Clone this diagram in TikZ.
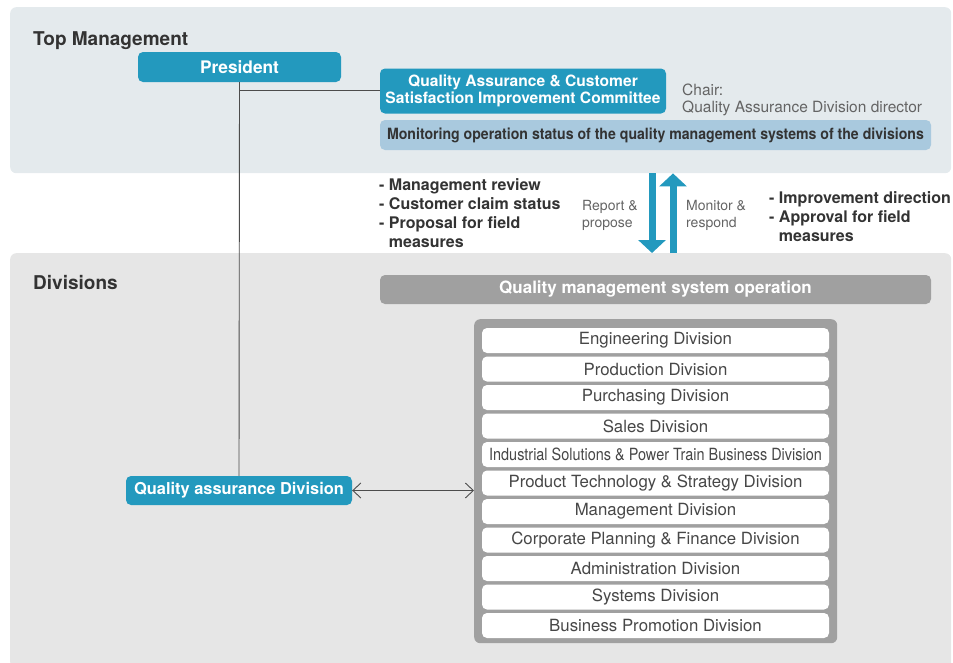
\documentclass[tikz,border=0pt]{standalone}
\usepackage{fontspec}
\setmainfont{TeX Gyre Heros}
\usepackage{xcolor}
\usetikzlibrary{arrows.meta, positioning}
\definecolor{qaBlue}{RGB}{35,153,190}
\definecolor{topBack}{RGB}{228,234,237}
\definecolor{divBack}{RGB}{230,230,230}
\definecolor{monBlue}{RGB}{169,201,222}
\definecolor{boxGray}{RGB}{160,160,160}
\definecolor{textDark}{RGB}{51,51,51}
\definecolor{textGray}{RGB}{100,100,100}
\newcommand{\fsz}[1]{\fontsize{#1}{1.15em}\selectfont}
\tikzset{
  panel/.style={rounded corners=6pt, inner sep=0pt, anchor=north west},
  bluebox/.style={fill=qaBlue, rounded corners=5pt, text=white, inner sep=0pt, font=\bfseries\fsz{16.4}},
  graybar/.style={fill=boxGray, rounded corners=5pt, text=white, inner sep=0pt, font=\bfseries\fsz{17}},
  divbox/.style={fill=white, rounded corners=5pt, text=textDark!90, inner sep=0pt,
    minimum width=347pt, minimum height=25pt, font=\fsz{16.8}},
  heading/.style={text=textDark, inner sep=0pt, anchor=base west, font=\bfseries\fsz{19}},
  itemlist/.style={text=textDark, inner sep=0pt, anchor=north west, align=left, font=\bfseries\fontsize{16}{19}\selectfont},
  remark/.style={text=textGray, inner sep=0pt, anchor=north west, align=left, font=\fontsize{14}{17}\selectfont},
  conn/.style={draw=black!70, line width=0.9pt},
  flow/.style={qaBlue, line width=7pt, -{Triangle[width=27pt, length=13pt]}}
}
\begin{document}
\begin{tikzpicture}[x=1pt, y=-1pt]
  \useasboundingbox (0,0) rectangle (953,662);

  % background panels
  \node[panel, fill=topBack, minimum width=941pt, minimum height=166pt] (topPanel) at (10,7) {};
  \node[panel, fill=divBack, minimum width=941pt, minimum height=415pt] (divPanel) at (10,253) {};
  \node[heading] (topTitle) at (33,45.5) {Top Management};
  \node[heading] (divTitle) at (33,289.5) {Divisions};

  % top management
  \node[bluebox, minimum width=203pt, minimum height=30pt, font=\bfseries\fsz{17.3}] (pres) at (239.5,67) {President};
  \node[bluebox, minimum width=286pt, minimum height=45pt, align=center,
    font=\bfseries\fontsize{15.6}{17}\selectfont] (comm) at (523,91)
    {Quality Assurance \& Customer\\Satisfaction Improvement Committee};
  \node[remark, font=\fontsize{15.5}{17}\selectfont] (chair) at (682,84)
    {Chair:\\Quality Assurance Division director};
  \node[fill=monBlue, rounded corners=5pt, inner sep=0pt, minimum width=551pt, minimum height=30pt,
    text=textDark, font=\bfseries\fsz{15.5}] (monitor) at (655.5,135)
    {\scalebox{0.91}[1]{Monitoring operation status of the quality management systems of the divisions}};

  \draw[conn] (pres.south) -- (pres.south |- 0,90) -- (comm.west |- 0,90);

  % reporting between levels
  \coordinate (rp) at (652,0);
  \coordinate (mr) at (673,0);
  \draw[flow] (rp |- topPanel.south) -- (rp |- divPanel.north);
  \draw[flow] (mr |- divPanel.north) -- (mr |- topPanel.south);
  \node[itemlist] (upList) at (379,178)
    {- Management review\\- Customer claim status\\- Proposal for field\\\hphantom{- }measures};
  \node[remark] (rpText) at (582,200) {Report \&\\propose};
  \node[remark] (mrText) at (686,200) {Monitor \&\\respond};
  \node[itemlist] (downList) at (769,191)
    {- Improvement direction\\- Approval for field\\\hphantom{- }measures};

  % divisions
  \node[graybar, minimum width=551pt, minimum height=29pt] (qms) at (655.5,289.5)
    {Quality management system operation};
  \node[panel, fill=boxGray, minimum width=363pt, minimum height=324pt] (divFrame) at (474,319) {};
  \foreach \name [count=\i from 0] in {Engineering Division, Production Division, Purchasing Division,
      Sales Division, {\scalebox{0.86}[1]{Industrial Solutions \& Power Train Business Division}},
      Product Technology \& Strategy Division, Management Division,
      Corporate Planning \& Finance Division, Administration Division, Systems Division,
      Business Promotion Division}
    \node[divbox] (div\i) at (655.5,340.5+28.5*\i) {\name};

  \node[bluebox, minimum width=226pt, minimum height=29pt] (qaDiv) at (239,490.5) {Quality assurance Division};
  \draw[conn] (pres.south) -- (qaDiv.north);
  \draw[conn, {Straight Barb[length=8pt, width=15pt]}-{Straight Barb[length=8pt, width=15pt]}]
    (qaDiv.east) -- (qaDiv.east -| divFrame.west);
\end{tikzpicture}
\end{document}
